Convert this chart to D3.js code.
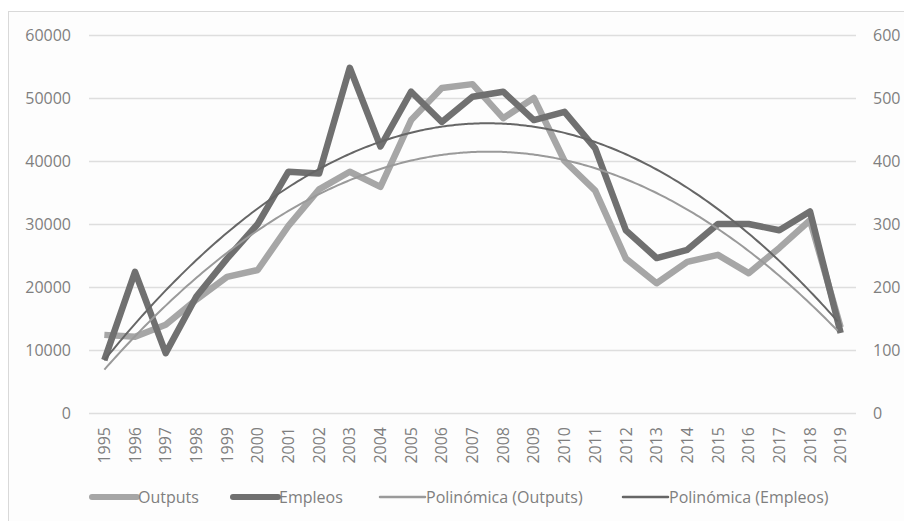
<!DOCTYPE html>
<html>
<head>
<meta charset="utf-8">
<script src="https://cdn.jsdelivr.net/npm/d3@7"></script>
<style>
    body { margin: 0; background: #ffffff; }
    text { font-family: "Open Sans", sans-serif; fill: #7f7f7f; }
</style>
</head>
<body>
<script>
var years = ['1995','1996','1997','1998','1999','2000','2001','2002','2003','2004',
             '2005','2006','2007','2008','2009','2010','2011','2012','2013','2014',
             '2015','2016','2017','2018','2019'];

// left axis
var outputs = [12400, 12100, 14000, 18000, 21600, 22700, 29700, 35500, 38300, 35900,
               46500, 51600, 52200, 46800, 50000, 40000, 35300, 24500, 20600, 24000,
               25100, 22200, 26200, 30600, 13600];

// right axis
var empleos = [84, 224, 95, 185, 245, 300, 383, 380, 548, 423,
               510, 462, 502, 510, 465, 478, 420, 290, 246, 259,
               300, 300, 290, 320, 127];

var leftTicks = [0, 10000, 20000, 30000, 40000, 50000, 60000];
var rightTicks = [0, 100, 200, 300, 400, 500, 600];

var legendItems = ['Outputs', 'Empleos', 'Polinómica (Outputs)', 'Polinómica (Empleos)'];

var width = 904, height = 521,
    plotLeft = 89, plotRight = 856, plotTop = 35, plotBottom = 413;

var svg = d3.select('body').append('svg')
    .attr('width', width)
    .attr('height', height);

svg.append('rect')
    .attr('x', 8.5).attr('y', 11.5)
    .attr('width', 920).attr('height', 540)
    .attr('fill', '#fdfdfd')
    .attr('stroke', '#d9d9d9');

var x = d3.scaleBand().domain(years).range([plotLeft, plotRight]);
var yLeft = d3.scaleLinear().domain([0, 60000]).range([plotBottom, plotTop]);
var yRight = d3.scaleLinear().domain([0, 600]).range([plotBottom, plotTop]);

function cx(d) { return x(d) + x.bandwidth() / 2; }

// gridlines
svg.append('g').selectAll('line')
    .data(leftTicks).enter()
    .append('line')
    .attr('x1', plotLeft).attr('x2', plotRight)
    .attr('y1', function(d){ return Math.round(yLeft(d)) + 0.5; })
    .attr('y2', function(d){ return Math.round(yLeft(d)) + 0.5; })
    .attr('stroke', '#dedede')
    .attr('stroke-width', 1.5);

// axes
var leftAxis = svg.append('g')
    .attr('transform', 'translate(' + (plotLeft - 18) + ',0)')
    .call(d3.axisLeft(yLeft).tickValues(leftTicks).tickFormat(d3.format('d'))
        .tickSize(0).tickPadding(0));
var rightAxis = svg.append('g')
    .attr('transform', 'translate(' + (plotRight + 17) + ',0)')
    .call(d3.axisRight(yRight).tickValues(rightTicks).tickFormat(d3.format('d'))
        .tickSize(0).tickPadding(0));
var bottomAxis = svg.append('g')
    .attr('transform', 'translate(0,' + plotBottom + ')')
    .call(d3.axisBottom(x).tickSize(0).tickPadding(0));

[leftAxis, rightAxis, bottomAxis].forEach(function(a) {
    a.select('.domain').remove();
    a.selectAll('text')
        .attr('font-family', '"Open Sans", sans-serif')
        .attr('font-size', 16)
        .attr('fill', '#7f7f7f');
});

bottomAxis.selectAll('text')
    .attr('transform', 'rotate(-90)')
    .attr('text-anchor', 'end')
    .attr('x', -14)
    .attr('y', 0)
    .attr('dy', '0.35em');

// quadratic least squares, like the spreadsheet trendline
function polyFit(vals) {
    var s = [0, 0, 0, 0, 0], t = [0, 0, 0];
    vals.forEach(function(v, i) {
        var k = i + 1, p = 1;
        for (var j = 0; j < 5; j++) { s[j] += p; if (j < 3) t[j] += p * v; p *= k; }
    });
    var m = [[s[0], s[1], s[2], t[0]], [s[1], s[2], s[3], t[1]], [s[2], s[3], s[4], t[2]]];
    for (var c = 0; c < 3; c++) {
        for (var r = c + 1; r < 3; r++) {
            var f = m[r][c] / m[c][c];
            for (var q = c; q < 4; q++) m[r][q] -= f * m[c][q];
        }
    }
    var coef = [0, 0, 0];
    for (var r2 = 2; r2 >= 0; r2--) {
        var sum = m[r2][3];
        for (var q2 = r2 + 1; q2 < 3; q2++) sum -= m[r2][q2] * coef[q2];
        coef[r2] = sum / m[r2][r2];
    }
    return function(k) { return coef[0] + coef[1] * k + coef[2] * k * k; };
}

var step = x.step(), x0 = cx(years[0]);
function trendPoints(vals) {
    var f = polyFit(vals), pts = [];
    for (var k = 1; k <= vals.length; k += 0.1) pts.push([k, f(k)]);
    return pts;
}

var seriesLine = function(scale) {
    return d3.line()
        .x(function(d, i){ return cx(years[i]); })
        .y(function(d){ return scale(d); });
};
var trendLine = function(scale) {
    return d3.line().curve(d3.curveBasis)
        .x(function(d){ return x0 + (d[0] - 1) * step; })
        .y(function(d){ return scale(d[1]); });
};

svg.append('path')
    .datum(outputs)
    .attr('d', seriesLine(yLeft))
    .attr('fill', 'none')
    .attr('stroke', '#a6a6a6')
    .attr('stroke-width', 6.5)
    .attr('stroke-linejoin', 'round');

svg.append('path')
    .datum(empleos)
    .attr('d', seriesLine(yRight))
    .attr('fill', 'none')
    .attr('stroke', '#707070')
    .attr('stroke-width', 6.5)
    .attr('stroke-linejoin', 'round');

svg.append('path')
    .datum(trendPoints(outputs))
    .attr('d', trendLine(yLeft))
    .attr('fill', 'none')
    .attr('stroke', '#9a9a9a')
    .attr('stroke-width', 2);

svg.append('path')
    .datum(trendPoints(empleos))
    .attr('d', trendLine(yRight))
    .attr('fill', 'none')
    .attr('stroke', '#666666')
    .attr('stroke-width', 2);

// legend
var legendStyle = [
    {x: 92, color: '#a6a6a6', w: 6},
    {x: 233, color: '#707070', w: 6},
    {x: 380, color: '#9a9a9a', w: 2.5},
    {x: 623, color: '#666666', w: 2.5}
];
var legend = svg.append('g').selectAll('g')
    .data(legendItems).enter()
    .append('g');
legend.append('line')
    .attr('x1', function(d, i){ return legendStyle[i].x; })
    .attr('x2', function(d, i){ return legendStyle[i].x + 45; })
    .attr('y1', 497).attr('y2', 497)
    .attr('stroke', function(d, i){ return legendStyle[i].color; })
    .attr('stroke-width', function(d, i){ return legendStyle[i].w; })
    .attr('stroke-linecap', 'round');
legend.append('text')
    .text(function(d){ return d; })
    .attr('x', function(d, i){ return legendStyle[i].x + 46; })
    .attr('y', 497)
    .attr('dy', '0.35em')
    .attr('font-size', 16);
</script>
</body>
</html>
